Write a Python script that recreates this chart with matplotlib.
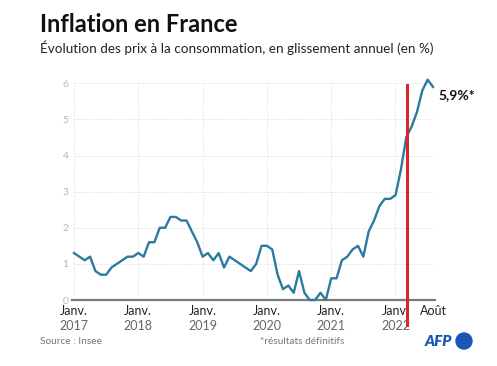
import matplotlib
matplotlib.use('Agg')
import matplotlib.pyplot as plt
from matplotlib.patches import Circle
import matplotlib.transforms as mtransforms

plt.rcParams['font.family'] = ['Lato', 'DejaVu Sans']

# Glissement annuel des prix, janv. 2017 -> août 2022 (en %)
inflation = [
    1.3, 1.2, 1.1, 1.2, 0.8, 0.7, 0.7, 0.9, 1.0, 1.1, 1.2, 1.2,   # 2017
    1.3, 1.2, 1.6, 1.6, 2.0, 2.0, 2.3, 2.3, 2.2, 2.2, 1.9, 1.6,   # 2018
    1.2, 1.3, 1.1, 1.3, 0.9, 1.2, 1.1, 1.0, 0.9, 0.8, 1.0, 1.5,   # 2019
    1.5, 1.4, 0.7, 0.3, 0.4, 0.2, 0.8, 0.2, 0.0, 0.0, 0.2, 0.0,   # 2020
    0.6, 0.6, 1.1, 1.2, 1.4, 1.5, 1.2, 1.9, 2.2, 2.6, 2.8, 2.8,   # 2021
    2.9, 3.6, 4.5, 4.8, 5.2, 5.8, 6.1, 5.9,                       # 2022
]
years = ['2017', '2018', '2019', '2020', '2021', '2022']
year_ticks = [0, 12, 24, 36, 48, 60]
last_tick = 67
last_label = 'Août'
last_value_label = '5,9%*'
marker_month = 62.2   # trait rouge

months = list(range(len(inflation)))

fig = plt.figure(figsize=(4.97, 3.66), dpi=100)
ax = fig.add_axes([74 / 497, 1 - 300 / 366, (433 - 74) / 497, (300 - 83.3) / 366])

ax.plot(months, inflation, color='#2a7b9e', lw=1.7, clip_on=False, zorder=3)

ax.set_xlim(0, last_tick)
ax.set_ylim(0, 6)
ax.set_yticks(range(0, 7))
ax.set_xticks(year_ticks + [last_tick])
ax.set_xticklabels([])
ax.tick_params(axis='y', length=0, labelsize=7.5, labelcolor='#b5b5b5', pad=4)
ax.tick_params(axis='x', length=0)
ax.grid(True, color='#dadada', linestyle=(0, (1, 1.5)), lw=0.7)
for s in ['top', 'right', 'left']:
    ax.spines[s].set_visible(False)
ax.spines['bottom'].set_color('#7a7a7a')
ax.spines['bottom'].set_linewidth(1.6)
ax.spines['bottom'].set_bounds(-0.4, last_tick + 0.4)

trans = mtransforms.blended_transform_factory(ax.transData, ax.transAxes)
for x, yr in zip(year_ticks, years):
    ax.text(x, -0.025, 'Janv.', transform=trans, ha='center', va='top',
            fontsize=9, color='#222222')
    ax.text(x, -0.09, yr, transform=trans, ha='center', va='top',
            fontsize=9, color='#666666')
ax.text(last_tick, -0.025, last_label, transform=trans, ha='center', va='top',
        fontsize=9, color='#222222')

ax.axvline(marker_month, ymin=-0.115, ymax=0.992, color='#d9262c', lw=2.2,
           clip_on=False, zorder=4)

ax.annotate(last_value_label, xy=(months[-1], inflation[-1]), xytext=(4, -6),
            textcoords='offset points', ha='left', va='center',
            fontsize=10, fontweight='bold', color='#111111')

fig.text(40 / 497, 1 - 25 / 366, 'Inflation en France', fontsize=17,
         fontweight='bold', ha='left', va='center', color='#111111')
fig.text(40 / 497, 1 - 48 / 366,
         'Évolution des prix à la consommation, en glissement annuel (en %)',
         fontsize=9.7, ha='left', va='center', color='#222222')

fig.text(40 / 497, 1 - 342 / 366, 'Source : Insee', fontsize=7.3,
         ha='left', va='center', color='#777777')
fig.text(302 / 497, 1 - 342 / 366, '*résultats définitifs', fontsize=7.3,
         ha='center', va='center', color='#777777')

fig.text(438 / 497, 1 - 342 / 366, 'AFP', fontsize=11, fontweight='heavy',
         style='italic', ha='center', va='center', color='#1a56b8')
fig.add_artist(Circle((464 / 497 * 4.97, (1 - 341 / 366) * 3.66), 8 / 100,
                      transform=fig.dpi_scale_trans, color='#1a56b8'))

fig.savefig('out.png', dpi=100)
